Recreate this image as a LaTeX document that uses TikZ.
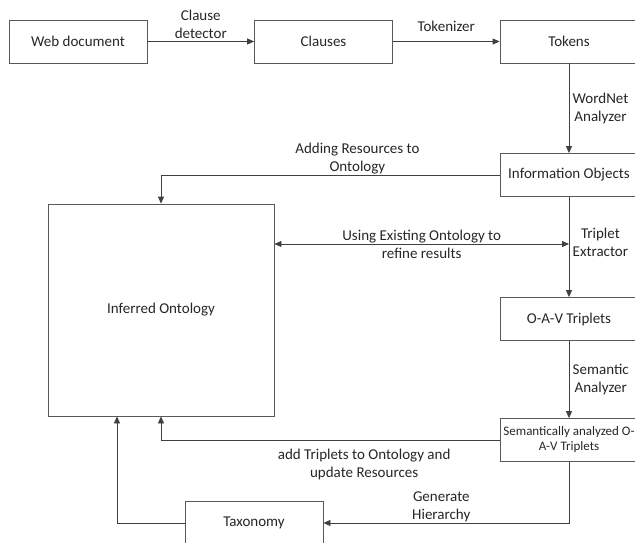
\documentclass[tikz,border=0pt]{standalone}
\usepackage{fontspec}
\setmainfont{Carlito}
\usetikzlibrary{arrows.meta,positioning,calc}

\begin{document}
\begin{tikzpicture}[x=1pt,y=-1pt,>={Triangle[length=7pt,width=6pt]},
  font=\fontsize{15}{18}\selectfont,text=black!85,
  box/.style={draw=black!65,line width=0.8pt,minimum width=138pt,minimum height=43pt,align=center,inner sep=1pt},
  link/.style={draw=black!75,line width=0.8pt}]
\clip (0,0) rectangle (635,543);
\node[box] (web) at (78,41.5) {Web document};
\node[box] (clauses) at (323.5,41.5) {Clauses};
\node[box] (tokens) at (569,41.5) {Tokens};
\node[box] (info) at (569,175) {Information Objects};
\node[box] (oav) at (569,319) {O-A-V Triplets};
\node[box,font=\fontsize{13}{15}\selectfont] (sem) at (569,440) {Semantically analyzed O-\\A-V Triplets};
\node[box,minimum width=226pt,minimum height=212pt] (onto) at (161,310) {Inferred Ontology};
\node[box] (tax) at (254,523) {Taxonomy};
\coordinate (tx) at (569,244);
\path[->,link,align=center,every edge/.style=link]
(web) edge node[above,inner sep=2pt]{Clause\\detector} (clauses)
(clauses) edge node[above=6pt]{Tokenizer} (tokens)
(tokens) edge node[right]{WordNet\\Analyzer} (info)
(info) edge node[right,pos=0.45]{Triplet\\Extractor} (oav)
(oav) edge node[right]{Semantic\\Analyzer} (sem);
\draw[->,link] (info.west) -| node[pos=0.21,above,align=center,inner sep=1pt]{Adding Resources to\\Ontology} (onto.north);
\draw[<->,link] (onto.east |- tx) -- node[align=center]{Using Existing Ontology to\\refine results} (tx);
\draw[->,link] (sem.west) -| node[pos=0.2,below=5pt,align=center]{add Triplets to Ontology and\\update Resources} (onto.south);
\draw[->,link] (sem.south) |- node[pos=0.76,above,align=center,inner sep=1pt]{Generate\\Hierarchy} (tax.east);
\draw[->,link] (tax.west) -| ([xshift=-44pt]onto.south);
\end{tikzpicture}
\end{document}
